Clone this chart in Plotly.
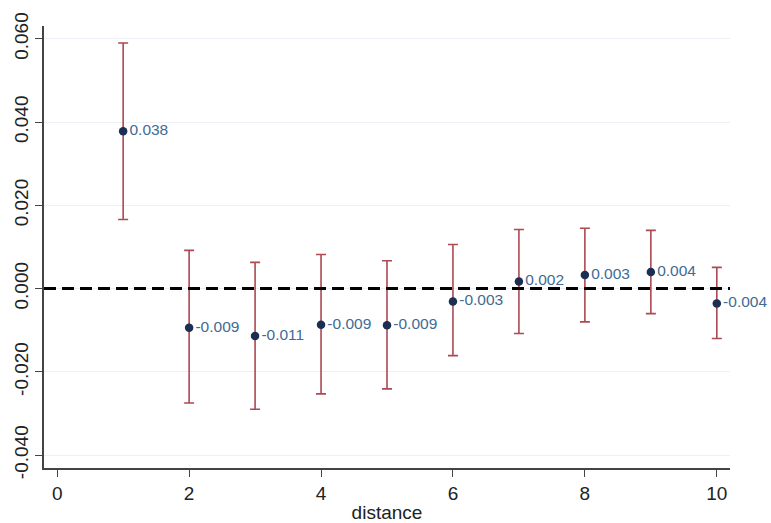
import plotly.graph_objects as go

distance = [1, 2, 3, 4, 5, 6, 7, 8, 9, 10]
coef = [0.0378, -0.0094, -0.0114, -0.0087, -0.0088, -0.0031, 0.0017, 0.0033, 0.0040, -0.0036]
ci_upper = [0.0590, 0.0092, 0.0063, 0.0082, 0.0067, 0.0106, 0.0142, 0.0145, 0.0140, 0.0051]
ci_lower = [0.0166, -0.0275, -0.0290, -0.0253, -0.0241, -0.0161, -0.0108, -0.0080, -0.0060, -0.0120]
y_ticks = [-0.04, -0.02, 0.0, 0.02, 0.04, 0.06]
x_ticks = [0, 2, 4, 6, 8, 10]

labels = [f"{v:.3f}" for v in coef]
err_plus = [u - c for u, c in zip(ci_upper, coef)]
err_minus = [c - l for c, l in zip(coef, ci_lower)]

fig = go.Figure()
fig.add_trace(go.Scatter(
    x=distance, y=coef, mode="markers+text",
    text=labels, textposition="middle right",
    textfont=dict(family="Liberation Sans, Arial", size=15.5, color="#3f6b94"),
    marker=dict(color="#1b2f52", size=8.5),
    error_y=dict(type="data", symmetric=False, array=err_plus, arrayminus=err_minus,
                 color="#ab4a52", thickness=1.6, width=5),
    cliponaxis=False,
    showlegend=False,
))

fig.add_shape(type="line", xref="paper", yref="y", x0=0, x1=1, y0=0, y1=0,
              line=dict(color="black", width=3, dash="12px,6px"), layer="above")

fig.update_layout(
    width=771, height=523,
    margin=dict(l=44, r=41, t=26, b=55),
    plot_bgcolor="white", paper_bgcolor="white",
    font=dict(family="Liberation Sans, Arial", size=19, color="#222"),
    xaxis=dict(range=[-0.2, 10.2], tickvals=x_ticks, ticktext=[str(t) for t in x_ticks],
               showgrid=False, zeroline=False, showline=True, linecolor="#444", linewidth=1.5,
               ticks="outside", ticklen=7, tickcolor="#444", tickfont=dict(size=19),
               automargin=False,
               title=dict(text="distance", font=dict(size=19))),
    yaxis=dict(range=[-0.0431, 0.0631], tickvals=y_ticks, ticktext=[f"{t:.3f}" for t in y_ticks],
               tickangle=-90, tickfont=dict(size=19), showgrid=True, gridcolor="#edf1f7", gridwidth=1,
               zeroline=False, showline=True, linecolor="#444", linewidth=1.5,
               ticks="outside", ticklen=7, tickcolor="#444", automargin=False),
)

fig.write_html("out.html")
